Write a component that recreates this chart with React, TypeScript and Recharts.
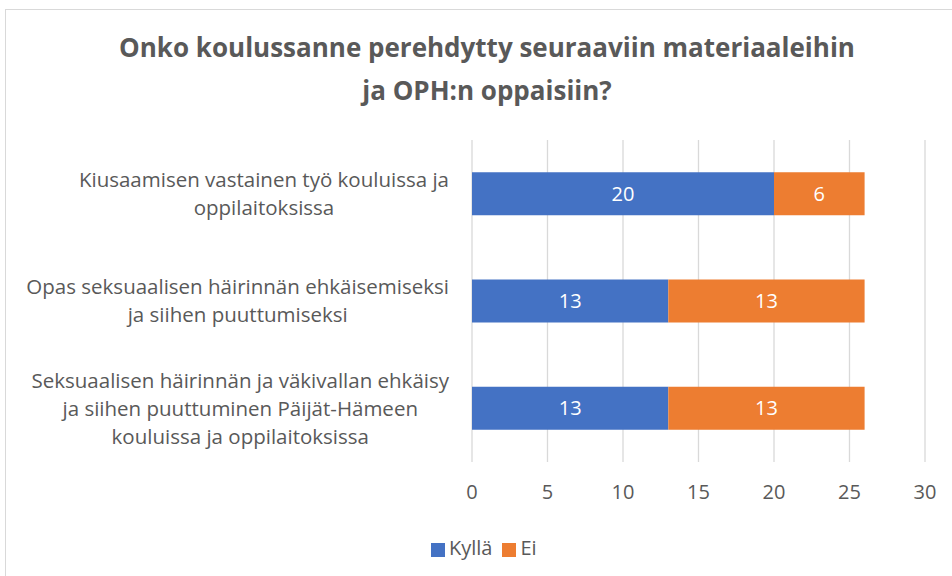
import React from 'react';
import { BarChart, Bar, XAxis, YAxis, CartesianGrid, Legend, LabelList } from 'recharts';

const categories = [
  'Kiusaamisen vastainen työ kouluissa ja oppilaitoksissa',
  'Opas seksuaalisen häirinnän ehkäisemiseksi ja siihen puuttumiseksi',
  'Seksuaalisen häirinnän ja väkivallan ehkäisy ja siihen puuttuminen Päijät-Hämeen kouluissa ja oppilaitoksissa',
];
// how the category labels wrap in the original
const categoryLines = [
  ['Kiusaamisen vastainen työ kouluissa ja', 'oppilaitoksissa'],
  ['Opas seksuaalisen häirinnän ehkäisemiseksi', 'ja siihen puuttumiseksi'],
  ['Seksuaalisen häirinnän ja väkivallan ehkäisy', 'ja siihen puuttuminen Päijät-Hämeen', 'kouluissa ja oppilaitoksissa'],
];
const kylla = [20, 13, 13];
const ei = [6, 13, 13];
const xTicks = [0, 5, 10, 15, 20, 25, 30];
const seriesOrder = ['Kyllä', 'Ei'];

const data = categories.map((name, i) => ({ name, lines: categoryLines[i], Kyllä: kylla[i], Ei: ei[i] }));

const FONT = '"Open Sans", sans-serif';
const GREY = '#595959';
const LABEL_SIZE = 20.5;

let ctx: CanvasRenderingContext2D | null = null;
function textWidth(s: string) {
  if (!ctx) ctx = document.createElement('canvas').getContext('2d');
  if (!ctx) return s.length * 10;
  ctx.font = `${LABEL_SIZE}px "Open Sans"`;
  return ctx.measureText(s).width;
}

const CategoryTick = (props: any) => {
  const { x, y, payload } = props;
  const row = data.find((d) => d.name === payload.value);
  const lines = row ? row.lines : [payload.value];
  const widest = Math.max(...lines.map(textWidth));
  const right = x - 15;
  const cx = right - widest / 2;
  return (
    <g>
      {lines.map((l: string, i: number) => (
        <text
          key={i}
          x={cx}
          y={y + (i - (lines.length - 1) / 2) * 28}
          dy="0.35em"
          textAnchor="middle"
          fill={GREY}
          fontSize={LABEL_SIZE}
          fontFamily={FONT}
        >
          {l}
        </text>
      ))}
    </g>
  );
};

export default function App() {
  return (
    <div style={{ position: 'fixed', left: 0, top: 0, width: 952, height: 576, background: '#fff', fontFamily: FONT }}>
      <div style={{ position: 'absolute', left: 5, top: 9, right: 0, bottom: 0, borderLeft: '1px solid #D9D9D9', borderTop: '1px solid #D9D9D9' }} />
      <div
        style={{
          position: 'absolute',
          left: 0,
          top: 26,
          width: 974,
          textAlign: 'center',
          color: GREY,
          fontWeight: 'bold',
          fontSize: 26,
          lineHeight: '43px',
        }}
      >
        Onko koulussanne perehdytty seuraaviin materiaaleihin
        <br />
        ja OPH:n oppaisiin?
      </div>
      <BarChart
        width={952}
        height={576}
        data={data}
        layout="vertical"
        margin={{ top: 140, right: 27, bottom: 74, left: 0 }}
        barCategoryGap="30%"
      >
        <CartesianGrid horizontal={false} stroke="#D9D9D9" strokeWidth={1.3} />
        <XAxis
          type="number"
          domain={[0, 30]}
          ticks={xTicks}
          axisLine={false}
          tickLine={false}
          tickMargin={17}
          height={40}
          tick={{ fill: GREY, fontSize: 20, fontFamily: FONT }}
        />
        <YAxis
          type="category"
          dataKey="name"
          width={472}
          axisLine={false}
          tickLine={false}
          tick={<CategoryTick />}
        />
        <Legend
          layout="horizontal"
          verticalAlign="middle"
          align="center"
          iconType="square"
          iconSize={14}
          itemSorter={(item: any) => seriesOrder.indexOf(item.value)}
          wrapperStyle={{ top: 534, left: 431, width: 'auto', fontSize: 20, fontFamily: FONT }}
          formatter={(v: any) => <span style={{ color: GREY }}>{v}</span>}
        />
        <Bar dataKey="Kyllä" stackId="a" fill="#4472C4" isAnimationActive={false}>
          <LabelList dataKey="Kyllä" position="center" fill="#fff" fontSize={20} fontFamily={FONT} />
        </Bar>
        <Bar dataKey="Ei" stackId="a" fill="#ED7D31" isAnimationActive={false}>
          <LabelList dataKey="Ei" position="center" fill="#fff" fontSize={20} fontFamily={FONT} />
        </Bar>
      </BarChart>
    </div>
  );
}
